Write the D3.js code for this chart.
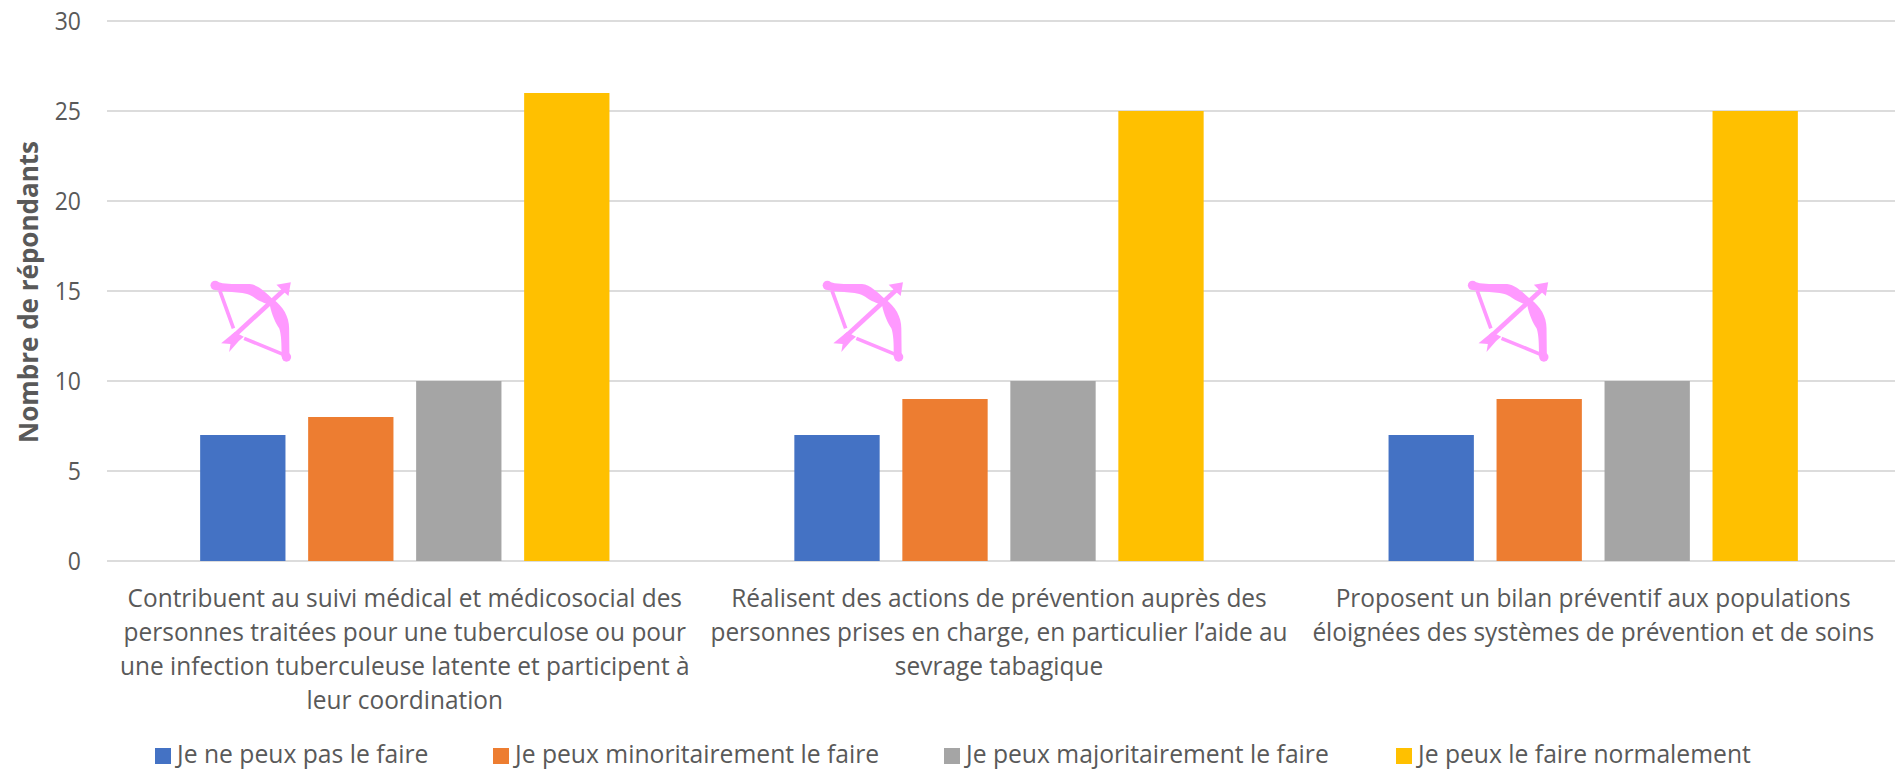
<!DOCTYPE html>
<html>
<head>
<meta charset="utf-8">
<style>
body { margin: 0; background: #fff; }
svg { display: block; }
text { font-family: "Open Sans", sans-serif; fill: #595959; }
.axis path, .axis line { display: none; }
.grid line { stroke: #dcdcdc; stroke-width: 2; }
</style>
<script src="https://cdnjs.cloudflare.com/ajax/libs/d3/7.8.5/d3.min.js"></script>
</head>
<body>
<script>
var categories = [
  ["Contribuent au suivi médical et médicosocial des", "personnes traitées pour une tuberculose ou pour", "une infection tuberculeuse latente et participent à", "leur coordination"],
  ["Réalisent des actions de prévention auprès des", "personnes prises en charge, en particulier l’aide au", "sevrage tabagique"],
  ["Proposent un bilan préventif aux populations", "éloignées des systèmes de prévention et de soins"]
];
var seriesNames = ["Je ne peux pas le faire", "Je peux minoritairement le faire", "Je peux majoritairement le faire", "Je peux le faire normalement"];
var seriesColors = ["#4472c4", "#ed7d31", "#a5a5a5", "#ffc000"];
var values = [
  [7, 8, 10, 26],
  [7, 9, 10, 25],
  [7, 9, 10, 25]
];
var yTicks = [0, 5, 10, 15, 20, 25, 30];
var iconOffsets = [-192, -174, -123];
var legendX = [155, 493, 944, 1396];

var width = 1895, height = 770, sx = 0.94;

var svg = d3.select("body").append("svg").attr("width", width).attr("height", height);

var x0 = d3.scaleBand().domain([0, 1, 2]).range([108, 1890]).paddingInner(0.273).paddingOuter(0.136);
var x1 = d3.scaleBand().domain([0, 1, 2, 3]).range([0, x0.bandwidth()]).paddingInner(0.21).paddingOuter(0.105);
var y = d3.scaleLinear().domain([0, 30]).range([561, 21]);

svg.append("g").attr("class", "grid").selectAll("line").data(yTicks).enter().append("line")
  .attr("x1", 107).attr("x2", width)
  .attr("y1", function(d) { return y(d); })
  .attr("y2", function(d) { return y(d); });

var yAxis = svg.append("g").attr("class", "axis").attr("transform", "translate(81,0)")
  .call(d3.axisLeft(y).tickValues(yTicks).tickSize(0).tickPadding(0));
yAxis.selectAll("text").attr("font-size", 25).attr("transform", "scale(0.92,1)")
  .style("font-family", '"Open Sans", sans-serif');

svg.append("text")
  .attr("transform", "translate(38,292) rotate(-90)")
  .attr("text-anchor", "middle")
  .attr("font-size", 26).attr("font-weight", 700)
  .text("Nombre de répondants");

var groups = svg.selectAll(".group").data(values).enter().append("g")
  .attr("class", "group")
  .attr("transform", function(d, i) { return "translate(" + x0(i) + ",0)"; });

groups.selectAll("rect").data(function(d) { return d; }).enter().append("rect")
  .attr("x", function(d, i) { return x1(i); })
  .attr("width", x1.bandwidth())
  .attr("y", function(d) { return y(d); })
  .attr("height", function(d) { return y(0) - y(d); })
  .attr("fill", function(d, i) { return seriesColors[i]; });

// bow and arrow pictogram, drawn once and reused
var defs = svg.append("defs").append("g").attr("id", "bow").attr("transform", "scale(0.3333)");
defs.append("path").attr("fill", "#ff99ff")
  .attr("d", "M76,63 C100,75 150,72 180,72 C205,74 230,100 250,118 C280,140 298,170 298,205 L299,290 L275,290 C276,250 274,220 268,205 C258,190 246,165 240,135 C225,130 205,122 195,114 C170,92 120,100 76,90 Z");
defs.append("circle").attr("cx", 76).attr("cy", 76).attr("r", 14).attr("fill", "#ff99ff");
defs.append("circle").attr("cx", 290).attr("cy", 291).attr("r", 14).attr("fill", "#ff99ff");
defs.append("path").attr("stroke", "#ff99ff").attr("stroke-width", 11).attr("fill", "none")
  .attr("d", "M90,92 L131,205 M163,235 L280,283");
defs.append("path").attr("stroke", "#ff99ff").attr("stroke-width", 14).attr("fill", "none")
  .attr("d", "M130,230 L285,88");
defs.append("path").attr("fill", "#ff99ff").attr("d", "M303,67 L260,74 L276,90 L296,108 Z");
defs.append("path").attr("fill", "#ff99ff").attr("d", "M94,250 L135,216 L162,230 L147,243 L118,276 L122,252 Z");

svg.selectAll(".bow").data(iconOffsets).enter().append("use")
  .attr("class", "bow")
  .attr("href", "#bow")
  .attr("x", 0).attr("y", 0)
  .attr("transform", function(d, i) { return "translate(" + (x0(i) + x0.bandwidth() / 2 + d - 23) + ",260)"; });

var labels = svg.selectAll(".cat").data(categories).enter().append("text")
  .attr("class", "cat")
  .attr("text-anchor", "middle")
  .attr("font-size", 26)
  .attr("transform", function(d, i) { return "translate(" + (x0(i) + x0.bandwidth() / 2) + ",607) scale(" + sx + ",1)"; });
labels.selectAll("tspan").data(function(d) { return d; }).enter().append("tspan")
  .attr("x", 0)
  .attr("y", function(d, i) { return i * 34; })
  .text(function(d) { return d; });

var legend = svg.selectAll(".leg").data(seriesNames).enter().append("g")
  .attr("class", "leg")
  .attr("transform", function(d, i) { return "translate(" + legendX[i] + ",0)"; });
legend.append("rect").attr("y", 748).attr("width", 16).attr("height", 16)
  .attr("fill", function(d, i) { return seriesColors[i]; });
legend.append("text")
  .attr("transform", "translate(22,763) scale(0.95,1)")
  .attr("font-size", 26)
  .text(function(d) { return d; });
</script>
</body>
</html>
